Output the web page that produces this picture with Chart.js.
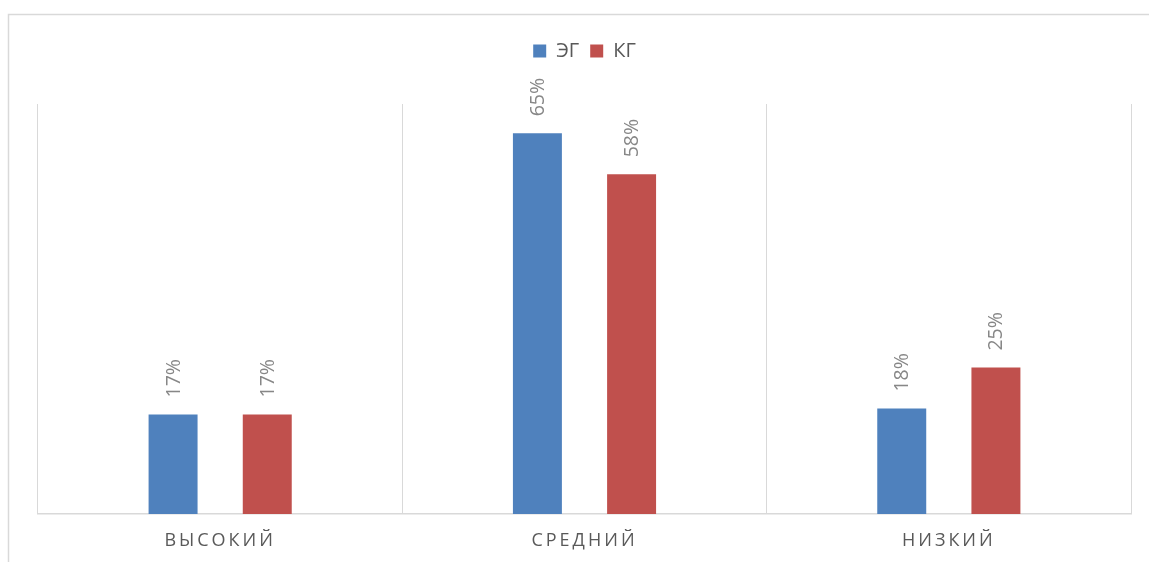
<!DOCTYPE html>
<html>
<head>
<meta charset="utf-8">
<script src="https://cdn.jsdelivr.net/npm/chart.js@4"></script>
<style>
  html, body { margin: 0; padding: 0; background: #ffffff; }
  #wrap { position: relative; width: 1149px; height: 562px; }
</style>
</head>
<body>
<div id="wrap"><canvas id="chart" width="1149" height="562"></canvas></div>
<script>
// Уровни и доли учащихся по группам (%)
const levels = ['ВЫСОКИЙ', 'СРЕДНИЙ', 'НИЗКИЙ'];
const egValues = [17, 65, 18];
const kgValues = [17, 58, 25];
const seriesNames = ['ЭГ', 'КГ'];

const FONT = "'Open Sans', 'Noto Sans', sans-serif";

// Outer frame of the chart block (left and top edges)
const framePlugin = {
  id: 'frame',
  beforeDraw(chart) {
    const ctx = chart.ctx;
    ctx.save();
    ctx.strokeStyle = '#d9d9d9';
    ctx.lineWidth = 1.5;
    ctx.strokeRect(8.5, 14.5, 1160, 600);
    ctx.restore();
  }
};

// Value labels above each bar, rotated vertically
const valueLabels = {
  id: 'valueLabels',
  afterDatasetsDraw(chart) {
    const ctx = chart.ctx;
    ctx.save();
    ctx.fillStyle = '#878787';
    ctx.font = '19.5px ' + FONT;
    ctx.textAlign = 'left';
    ctx.textBaseline = 'middle';
    chart.data.datasets.forEach((ds, di) => {
      chart.getDatasetMeta(di).data.forEach((bar, i) => {
        ctx.save();
        ctx.translate(bar.x + 1, bar.y - 17);
        ctx.rotate(-Math.PI / 2);
        ctx.fillText(ds.data[i] + '%', 0, 0);
        ctx.restore();
      });
    });
    ctx.restore();
  }
};

// Letter-spaced category labels; extra room under the legend
const layoutTweaks = {
  id: 'layoutTweaks',
  afterInit(chart) {
    const lg = chart.legend;
    if (lg && !lg._extraPatched) {
      const origFit = lg.fit.bind(lg);
      lg.fit = function () {
        origFit();
        this.height += 33;
      };
      lg._extraPatched = true;
    }
  },
  afterLayout(chart) {
    const s = chart.scales.x;
    if (s._spacedPatched) return;
    const orig = s.drawLabels.bind(s);
    s.drawLabels = function (area) {
      const ctx = chart.ctx;
      ctx.save();
      ctx.letterSpacing = '3px';
      orig(area);
      ctx.restore();
    };
    s._spacedPatched = true;
  }
};

new Chart(document.getElementById('chart'), {
  type: 'bar',
  data: {
    labels: levels,
    datasets: [
      { label: seriesNames[0], data: egValues, backgroundColor: '#4f81bd', borderWidth: 0 },
      { label: seriesNames[1], data: kgValues, backgroundColor: '#c0504d', borderWidth: 0 }
    ]
  },
  options: {
    responsive: false,
    animation: false,
    devicePixelRatio: 1,
    categoryPercentage: 0.517,
    barPercentage: 0.52,
    layout: { padding: { left: 38, right: 18, top: 30, bottom: 0 } },
    plugins: {
      legend: {
        position: 'top',
        align: 'center',
        labels: {
          color: '#595959',
          font: { family: FONT, size: 20 },
          boxWidth: 13,
          boxHeight: 13,
          padding: 11
        }
      },
      tooltip: { enabled: false }
    },
    scales: {
      x: {
        offset: true,
        grid: { display: true, offset: true, color: '#d9d9d9', lineWidth: 1, drawTicks: false },
        border: { display: true, color: '#d9d9d9', width: 1.5 },
        ticks: { color: '#595959', font: { family: FONT, size: 18 }, padding: 16 },
        afterFit(scale) { scale.height = 48; }
      },
      y: {
        display: false,
        min: 0,
        max: 70
      }
    }
  },
  plugins: [framePlugin, valueLabels, layoutTweaks]
});
</script>
</body>
</html>
